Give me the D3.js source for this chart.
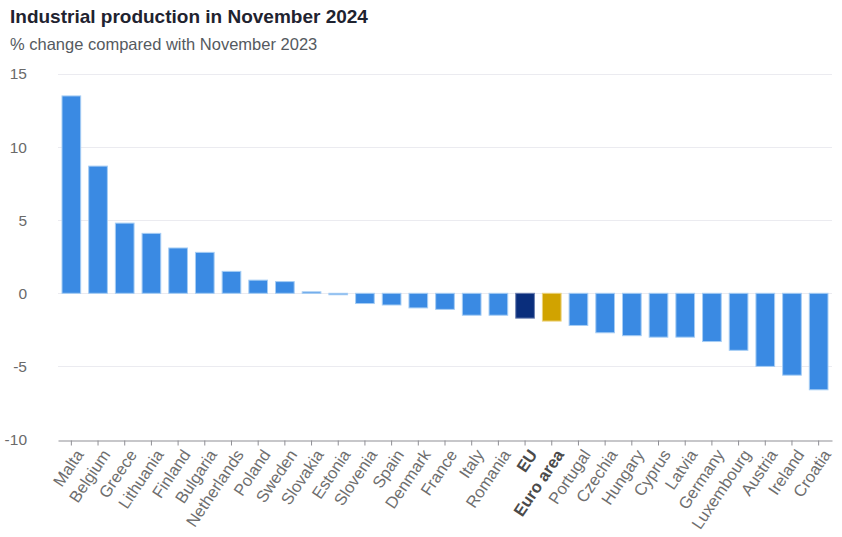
<!DOCTYPE html>
<html>
<head>
<meta charset="utf-8">
<script src="https://cdn.jsdelivr.net/npm/d3@7"></script>
<style>
  body { margin: 0; background: #fff; }
  text { font-family: "Liberation Sans", Arial, sans-serif; }
</style>
</head>
<body>
<svg id="chart" width="842" height="537"></svg>
<script>
// data
let countries = ["Malta", "Belgium", "Greece", "Lithuania", "Finland", "Bulgaria",
  "Netherlands", "Poland", "Sweden", "Slovakia", "Estonia", "Slovenia", "Spain",
  "Denmark", "France", "Italy", "Romania", "EU", "Euro area", "Portugal", "Czechia",
  "Hungary", "Cyprus", "Latvia", "Germany", "Luxembourg", "Austria", "Ireland", "Croatia"];

let changes = [13.5, 8.7, 4.8, 4.1, 3.1, 2.8, 1.5, 0.9, 0.8, 0.1, -0.1, -0.7, -0.8,
  -1.0, -1.1, -1.5, -1.5, -1.7, -1.9, -2.2, -2.7, -2.9, -3.0, -3.0, -3.3, -3.9,
  -5.0, -5.6, -6.6];

let yTicks = [15, 10, 5, 0, -5, -10];

let aggregates = ["EU", "Euro area"];

let svg = d3.select("#chart");

let plot = { left: 58, right: 832, top: 74, bottom: 439.5 };

let x = d3.scaleBand()
  .domain(countries)
  .range([plot.left, plot.right])
  .paddingInner(0.3)
  .paddingOuter(0.15);

let y = d3.scaleLinear()
  .domain([-10, 15])
  .range([plot.bottom, plot.top]);

function barColor(name) {
  if (name === "EU") return "#0a2e7c";
  if (name === "Euro area") return "#d1a300";
  return "#3a8ae3";
}

function barStroke(name) {
  if (name === "EU") return "#6c7fb0";
  if (name === "Euro area") return "#ecd27a";
  return "#a6cdf4";
}

// titles
svg.append("text")
  .attr("x", 10)
  .attr("y", 23)
  .attr("font-size", 19)
  .attr("font-weight", "bold")
  .attr("fill", "#1f2330")
  .text("Industrial production in November 2024");

svg.append("text")
  .attr("x", 10)
  .attr("y", 50)
  .attr("font-size", 16.5)
  .attr("fill", "#555a60")
  .text("% change compared with November 2023");

// grid lines
svg.append("g")
  .selectAll("line")
  .data(yTicks.filter(d => d !== -10))
  .join("line")
  .attr("x1", plot.left)
  .attr("x2", plot.right)
  .attr("y1", d => Math.round(y(d)) + 0.5)
  .attr("y2", d => Math.round(y(d)) + 0.5)
  .attr("stroke", "#ebebf0")
  .attr("stroke-width", 1);

// y axis labels, plain hyphen for negatives like the original
let yAxis = svg.append("g")
  .attr("transform", `translate(${plot.left - 31},0)`)
  .call(d3.axisLeft(y).tickValues(yTicks).tickSize(0).tickPadding(0).tickFormat(d => String(d)));

yAxis.select(".domain").remove();
yAxis.selectAll("text")
  .attr("font-size", 15.5)
  .attr("fill", "#6a6a6a")
  .attr("font-family", "Liberation Sans, Arial, sans-serif");

// bars
svg.append("g")
  .selectAll("rect")
  .data(countries)
  .join("rect")
  .attr("x", d => x(d))
  .attr("width", x.bandwidth())
  .attr("y", (d, i) => y(Math.max(0, changes[i])))
  .attr("height", (d, i) => Math.abs(y(changes[i]) - y(0)))
  .attr("fill", d => barColor(d))
  .attr("stroke", d => barStroke(d))
  .attr("stroke-width", 1);

// x axis
let xAxis = svg.append("g")
  .attr("transform", `translate(0,${Math.round(plot.bottom) + 0.5})`)
  .call(d3.axisBottom(x).tickSize(5).tickSizeOuter(0).tickPadding(0));

xAxis.select(".domain").attr("stroke", "#8f8f95");
xAxis.selectAll(".tick line").attr("stroke", "#8f8f95");
xAxis.selectAll("text")
  .attr("font-size", 16.5)
  .attr("fill", d => aggregates.includes(d) ? "#4a4a4a" : "#6e6e6e")
  .attr("font-weight", d => aggregates.includes(d) ? "bold" : "normal")
  .attr("font-family", "Liberation Sans, Arial, sans-serif")
  .attr("text-anchor", "end")
  .attr("dy", "0.35em")
  .attr("transform", "translate(4,8) rotate(-56)");
</script>
</body>
</html>
